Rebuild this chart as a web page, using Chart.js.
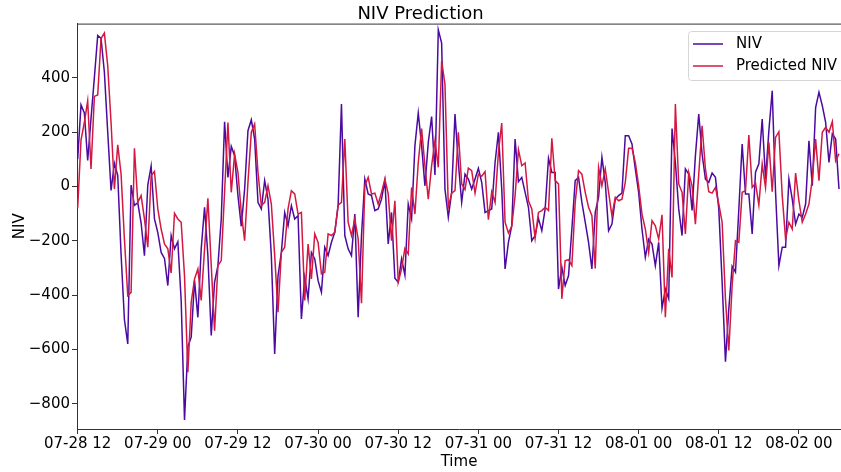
<!DOCTYPE html>
<html>
<head>
<meta charset="utf-8">
<title>NIV Prediction</title>
<script src="https://cdn.jsdelivr.net/npm/chart.js@4.4.0/dist/chart.umd.min.js"></script>
<style>
  html, body { margin: 0; padding: 0; background: #fff; }
</style>
</head>
<body>
<canvas id="nivChart" width="841" height="472"></canvas>
<script>
// half-hourly settlement periods, first one at 07-28 12:00 (x is hours from there)
var niv = [
  100, 300, 270, 95, 250, 400, 555, 545, 420, 200, -15, 85, 40, -250, -490, -580, 5, -70, -60, -135,
  -255, 5, 75, -120, -170, -243, -265, -365, -181, -230, -204, -420, -860, -590, -555, -347, -482, -230, -77, -255,
  -549, -353, -292, -120, 238, 33, 147, 113, -34, -147, -10, 205, 245, 174, -59, -83, 21, -47, -255, -617,
  -329, -243, -96, -145, -71, -120, -108, -488, -335, -414, -243, -267, -347, -390, -224, -255, -206, -169, -71, 303,
  -181, -230, -255, -102, -482, -181, 27, -28, -34, -89, -83, -47, 21, -212, -96, -338, -353, -267, -326, -65,
  -120, 150, 270, 150, 2, 162, 257, 42, 576, 527, -10, -114, -22, 266, 88, -59, 45, 27, -10, 27,
  66, 15, -96, -89, -83, 88, 199, -10, -304, -206, -145, 174, 17, 33, -22, -77, -200, -181, -118, -163,
  -83, 103, 51, 51, -378, -298, -365, -329, -157, 21, 33, -59, -132, -206, -304, -96, -40, 107, 15, -163,
  -139, -47, -34, -25, 186, 186, 156, 64, -22, -157, -261, -194, -212, -292, -206, -449, -378, -414, 213, 88,
  -83, -181, 64, 45, -89, 113, 266, 119, 27, 15, 49, 33, -83, -353, -645, -451, -294, -316, -85, 156,
  -28, -28, -175, 52, 83, 248, 27, 205, 352, -22, -292, -224, -224, 27, -47, -139, -102, -114, -65, 168,
  2, 290, 346, 297, 236, 88, 193, 174, -10
] ;
var predictedNiv = [
  -80, 170, 235, 315, 64, 331, 336, 544, 564, 444, 235, -10, 153, 45, -194, -402, -390, 140, -59, -34,
  -120, -224, 39, 55, -83, -157, -212, -230, -319, -99, -120, -132, -330, -684, -427, -341, -304, -420, -230, -44,
  -290, -531, -292, -273, -20, 235, -22, 119, 51, -96, -200, 15, 199, 229, 51, -71, -59, 2, -65, -255,
  -463, -243, -224, -83, -16, -28, -102, -96, -420, -212, -341, -175, -206, -322, -316, -175, -181, -169, -69, -59,
  174, -132, -181, -120, -194, -430, 2, 33, -28, -25, -65, -22, 27, -28, -200, -53, -353, -304, -228, -249,
  -4, -102, 88, 213, 76, -47, 76, 168, 70, 462, 376, -77, -25, -16, 199, 9, -12, 67, 58, -25,
  45, 37, 54, -123, -20, -59, 125, 233, -132, -172, -147, -34, 135, 76, 86, -53, -83, -191, -96, -89,
  -77, -89, 177, 21, 9, -414, -273, -270, -292, -59, 58, 45, -22, -77, -108, -302, 70, 2, 64, -22,
  -108, -40, -53, -47, 15, 140, 140, 88, 2, -102, -157, -243, -126, -145, -194, -105, -482, -230, -335, 303,
  9, -22, -175, 51, 2, -139, 45, 223, 64, -20, -25, -4, -65, -132, -414, -604, -365, -200, -206, -22,
  -16, 189, -4, 12, -69, 82, -4, 162, -20, 180, 201, -34, -194, -132, -157, 49, -53, -132, -102, -65,
  27, 174, 21, 199, 217, 199, 238, 94, 120
] ;
var tickHours = [0, 12, 24, 36, 48, 60, 72, 84, 96, 108] ;
var tickLabels = ['07-28 12', '07-29 00', '07-29 12', '07-30 00', '07-30 12',
                  '07-31 00', '07-31 12', '08-01 00', '08-01 12', '08-02 00'] ;
var yTicks = [-800, -600, -400, -200, 0, 200, 400] ;

var FONT = "'DejaVu Sans', 'Liberation Sans', sans-serif" ;
var nivColor = '#4b0aa0' ;
var predColor = '#d41840' ;

function toPoints(values) {
  var pts = [] ;
  for (var i = 0; i < values.length; i++) {
    pts.push({x: i * 0.5, y: values[i]}) ;
  }
  return pts ;
}

// matplotlib draws a top spine too, chart.js doesn't
var topSpine = {
  id: 'topSpine',
  afterDraw: function(chart) {
    var a = chart.chartArea ;
    var ctx = chart.ctx ;
    ctx.save() ;
    ctx.strokeStyle = '#333' ;
    ctx.lineWidth = 1 ;
    ctx.beginPath() ;
    ctx.moveTo(a.left, a.top + 0.5) ;
    ctx.lineTo(a.right, a.top + 0.5) ;
    ctx.stroke() ;
    ctx.restore() ;
  }
} ;

// legend box in the upper right corner, inside the plot
var legendBox = {
  id: 'legendBox',
  afterDraw: function(chart) {
    var ctx = chart.ctx ;
    var items = [['NIV', nivColor, 44], ['Predicted NIV', predColor, 66]] ;
    ctx.save() ;
    ctx.fillStyle = 'rgba(255,255,255,0.8)' ;
    ctx.strokeStyle = '#d6d6d6' ;
    ctx.lineWidth = 1 ;
    ctx.beginPath() ;
    ctx.roundRect(688.5, 31.5, 170, 49, 3) ;
    ctx.fill() ;
    ctx.stroke() ;
    ctx.font = '15px ' + FONT ;
    ctx.textBaseline = 'middle' ;
    for (var i = 0; i < items.length; i++) {
      ctx.strokeStyle = items[i][1] ;
      ctx.lineWidth = 1.5 ;
      ctx.beginPath() ;
      ctx.moveTo(693, items[i][2]) ;
      ctx.lineTo(723, items[i][2]) ;
      ctx.stroke() ;
      ctx.fillStyle = '#000' ;
      ctx.fillText(items[i][0], 736, items[i][2]) ;
    }
    ctx.restore() ;
  }
} ;

var ctx = document.getElementById('nivChart').getContext('2d') ;
var nivChart = new Chart(ctx, {
  type: 'line',
  data: {
    datasets: [{
      label: 'NIV',
      data: toPoints(niv),
      borderColor: nivColor,
      borderWidth: 1.5,
      pointRadius: 0,
      tension: 0,
      fill: false,
      order: 2
    }, {
      label: 'Predicted NIV',
      data: toPoints(predictedNiv),
      borderColor: predColor,
      borderWidth: 1.5,
      pointRadius: 0,
      tension: 0,
      fill: false,
      order: 1
    }]
  },
  options: {
    responsive: false,
    animation: false,
    devicePixelRatio: 1,
    layout: { padding: 0 },
    plugins: {
      legend: { display: false },
      tooltip: { enabled: false },
      title: {
        display: true,
        text: 'NIV Prediction',
        color: '#000',
        font: { family: FONT, size: 18, weight: 'normal', lineHeight: 1.2 },
        padding: { top: 4, bottom: -2 }
      }
    },
    scales: {
      x: {
        type: 'linear',
        bounds: 'data',
        min: -0.1,
        max: 114.3,
        afterBuildTicks: function(s) {
          s.ticks = tickHours.map(function(h) { return {value: h} ; }) ;
        },
        afterFit: function(s) { s.height = 43 ; },
        ticks: {
          autoSkip: false,
          maxRotation: 0,
          padding: 1,
          color: '#000',
          font: { family: FONT, size: 15 },
          callback: function(v, i) { return tickLabels[i] ; }
        },
        grid: { drawOnChartArea: false, drawTicks: true, tickLength: 5, color: '#333' },
        border: { color: '#333', width: 1 },
        title: {
          display: true,
          text: 'Time',
          color: '#000',
          font: { family: FONT, size: 15, lineHeight: 1.2 },
          padding: { top: 0, bottom: 1 }
        }
      },
      y: {
        type: 'linear',
        bounds: 'data',
        min: -893,
        max: 599,
        afterBuildTicks: function(s) {
          s.ticks = yTicks.map(function(v) { return {value: v} ; }) ;
        },
        afterFit: function(s) { s.width = 77 ; },
        ticks: {
          padding: 2,
          color: '#000',
          font: { family: FONT, size: 15 },
          // matplotlib uses a real minus sign
          callback: function(v) { return v < 0 ? '\u2212' + Math.abs(v) : '' + v ; }
        },
        grid: { drawOnChartArea: false, drawTicks: true, tickLength: 5, color: '#333' },
        border: { color: '#333', width: 1 },
        title: {
          display: true,
          text: 'NIV',
          color: '#000',
          font: { family: FONT, size: 15, lineHeight: 1.2 },
          padding: { top: 11, bottom: 0 }
        }
      }
    }
  },
  plugins: [topSpine, legendBox]
}) ;
</script>
</body>
</html>
